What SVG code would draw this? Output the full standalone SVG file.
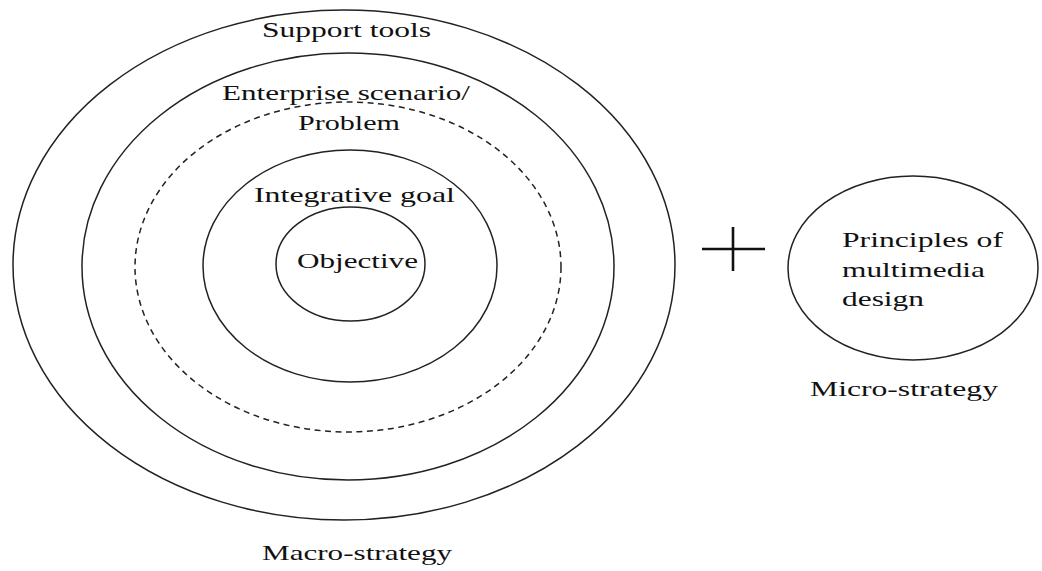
<svg xmlns="http://www.w3.org/2000/svg" width="1042" height="571" viewBox="0 0 1042 571">
  <style>
    .ring { fill: none; stroke: #222; stroke-width: 1.5; }
    .dash { stroke-dasharray: 6 4.5; }
    .lbl { font-family: "Liberation Serif", "Times New Roman", serif; font-size: 22px; fill: #111; }
    .bar { stroke: #111; stroke-width: 2.6; stroke-linecap: butt; }
  </style>
  <rect width="1042" height="571" fill="#fff"/>

  <!-- macro-strategy rings, outermost first -->
  <g id="support-tools">
    <ellipse class="ring" cx="344" cy="265" rx="331" ry="255"/>
    <text class="lbl" x="262" y="37" textLength="169" lengthAdjust="spacingAndGlyphs">Support tools</text>
  </g>
  <g id="enterprise-scenario">
    <ellipse class="ring" cx="348" cy="266.5" rx="266" ry="213.5"/>
    <ellipse class="ring dash" cx="348" cy="267" rx="213" ry="165"/>
    <text class="lbl" x="222" y="100" textLength="248" lengthAdjust="spacingAndGlyphs">Enterprise scenario/</text>
    <text class="lbl" x="298" y="130" textLength="102" lengthAdjust="spacingAndGlyphs">Problem</text>
  </g>
  <g id="integrative-goal">
    <ellipse class="ring" cx="350" cy="266" rx="147" ry="116"/>
    <text class="lbl" x="254" y="202" textLength="201" lengthAdjust="spacingAndGlyphs">Integrative goal</text>
  </g>
  <g id="objective">
    <ellipse class="ring" cx="350.5" cy="264" rx="74.5" ry="57"/>
    <text class="lbl" x="297" y="268" textLength="121" lengthAdjust="spacingAndGlyphs">Objective</text>
  </g>
  <g id="macro-strategy">
    <text class="lbl" x="262" y="560" textLength="190" lengthAdjust="spacingAndGlyphs">Macro-strategy</text>
  </g>

  <!-- plus sign joining the two strategies -->
  <g id="plus">
    <line class="bar" x1="702" y1="249" x2="765" y2="249"/>
    <line class="bar" x1="733" y1="227" x2="733" y2="271"/>
  </g>

  <!-- micro-strategy -->
  <g id="multimedia-principles">
    <ellipse class="ring" cx="913" cy="268" rx="125" ry="92"/>
    <text class="lbl" x="842" y="247" textLength="161" lengthAdjust="spacingAndGlyphs">Principles of</text>
    <text class="lbl" x="842" y="277" textLength="143" lengthAdjust="spacingAndGlyphs">multimedia</text>
    <text class="lbl" x="842" y="306" textLength="82" lengthAdjust="spacingAndGlyphs">design</text>
  </g>
  <g id="micro-strategy">
    <text class="lbl" x="810" y="396" textLength="188" lengthAdjust="spacingAndGlyphs">Micro-strategy</text>
  </g>

  <g id="connectors"></g>
</svg>
